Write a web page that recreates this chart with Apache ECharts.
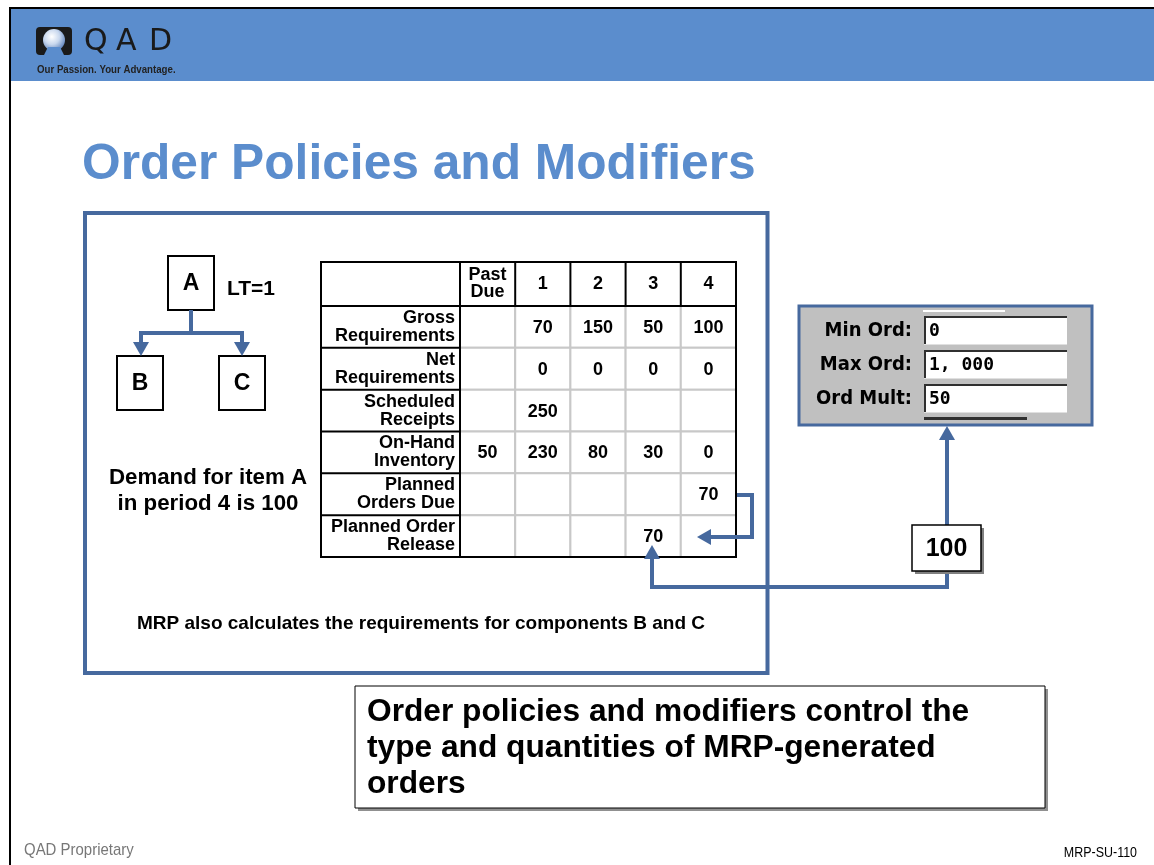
<!DOCTYPE html>
<html><head><meta charset="utf-8">
<script src="https://cdn.jsdelivr.net/npm/echarts@6/dist/echarts.min.js"></script>
<style>html,body{margin:0;padding:0;background:#fff}#c{width:1154px;height:865px}</style>
</head><body><div id="c"></div>
<script>
// ---- data ----
const title = 'Order Policies and Modifiers';
const periods = ['Past\nDue', '1', '2', '3', '4'];
const rowLabels = ['Gross\nRequirements', 'Net\nRequirements', 'Scheduled\nReceipts', 'On-Hand\nInventory', 'Planned\nOrders Due', 'Planned Order\nRelease'];
const grossRequirements = [null, 70, 150, 50, 100];
const netRequirements = [null, 0, 0, 0, 0];
const scheduledReceipts = [null, 250, null, null, null];
const onHandInventory = [50, 230, 80, 30, 0];
const plannedOrdersDue = [null, null, null, null, 70];
const plannedOrderRelease = [null, null, null, 70, null];
const modifierLabels = ['Min Ord:', 'Max Ord:', 'Ord Mult:'];
const modifierValues = ['0', '1, 000', '50'];
const orderQty = '100';
const demandText = 'Demand for item A\nin period 4 is 100';
const noteText = 'MRP also calculates the requirements for components B and C';
const calloutText = 'Order policies and modifiers control the\ntype and quantities of MRP-generated\norders';

const rows = [grossRequirements, netRequirements, scheduledReceipts, onHandInventory, plannedOrdersDue, plannedOrderRelease];
const cells = [];
rows.forEach((r, ri) => r.forEach((v, ci) => cells.push({ value: [ci, ri], label: v == null ? '' : String(v) })));

// ---- layout ----
const BLUE = '#46699e';
const HEAD = '#5b8dcd';
const T = { left: 321, top: 262, headBottom: 306, labelRight: 460, right: 736, bottom: 557 };
const colW = (T.right - T.labelRight) / periods.length;
const rowH = (T.bottom - T.headBottom) / rowLabels.length;
const F = 'Liberation Sans, Arial, sans-serif';

function line(x1, y1, x2, y2, stroke, w, z) {
  return { type: 'line', z: z || 10, shape: { x1, y1, x2, y2 }, style: { stroke, lineWidth: w } };
}
function poly(points, stroke, w, z) {
  return { type: 'polyline', z: z || 10, shape: { points }, style: { stroke, lineWidth: w, fill: null, lineJoin: 'miter' } };
}
function head(tip, dir, fill) {
  const [x, y] = tip; const L = 14, W = 8;
  let pts;
  if (dir === 'up') pts = [[x, y], [x - W, y + L], [x + W, y + L]];
  else if (dir === 'down') pts = [[x, y], [x - W, y - L], [x + W, y - L]];
  else pts = [[x, y], [x + L, y - W], [x + L, y + W]];
  return { type: 'polygon', z: 11, shape: { points: pts }, style: { fill } };
}
function text(x, y, t, font, fill, align, va, extra) {
  return { type: 'text', z: 12, style: Object.assign({ x, y, text: t, font, fill: fill || '#000', align: align || 'left', verticalAlign: va || 'middle' }, extra || {}) };
}
function stext(x, y, t, font, fill, align, sx) {
  return { type: 'text', z: 12, x, y, scaleX: sx, style: { x: 0, y: 0, text: t, font, fill, align, verticalAlign: 'middle' } };
}

const g = [];
// page frame + header band
g.push({ type: 'rect', z: 1, shape: { x: 11, y: 9, width: 1143, height: 72 }, style: { fill: HEAD } });
g.push({ type: 'rect', z: 1, shape: { x: 9, y: 7, width: 1145, height: 2 }, style: { fill: '#000' } });
g.push({ type: 'rect', z: 1, shape: { x: 9, y: 7, width: 2, height: 858 }, style: { fill: '#000' } });
// logo
g.push({ type: 'rect', z: 2, shape: { x: 36, y: 27, width: 36, height: 28, r: 4 }, style: { fill: '#1a1a1a' } });
g.push({ type: 'circle', z: 3, shape: { cx: 54, cy: 40, r: 11 }, style: { fill: { type: 'radial', x: 0.4, y: 0.35, r: 0.7, colorStops: [{ offset: 0, color: '#ffffff' }, { offset: 0.5, color: '#c9d8ee' }, { offset: 1, color: '#5a7fb8' }] } } });
g.push({ type: 'polygon', z: 3, shape: { points: [[44, 55], [48, 47], [60, 47], [64, 55]] }, style: { fill: HEAD } });
g.push(text(84, 42, 'Q', '30px DejaVu Sans', '#1a1a1a', 'left', 'middle'));
g.push(text(116, 42, 'A', '30px DejaVu Sans', '#1a1a1a', 'left', 'middle'));
g.push(text(149, 42, 'D', '30px DejaVu Sans', '#1a1a1a', 'left', 'middle'));
g.push(stext(37, 70, 'Our Passion. Your Advantage.', 'bold 11px ' + F, '#222', 'left', 0.88));
// title
g.push(text(82, 165, title, 'bold 49.7px ' + F, HEAD, 'left', 'middle'));
// outer box
g.push({ type: 'rect', z: 2, shape: { x: 85, y: 213, width: 682.5, height: 460 }, style: { fill: null, stroke: BLUE, lineWidth: 4 } });
// BOM tree
[[168, 256, 'A'], [117, 356, 'B'], [219, 356, 'C']].forEach(([x, y, t]) => {
  g.push({ type: 'rect', z: 5, shape: { x, y, width: 46, height: 54 }, style: { fill: '#fff', stroke: '#000', lineWidth: 2 } });
  g.push(text(x + 23, y + 28, t, 'bold 23px ' + F, '#000', 'center', 'middle'));
});
g.push(text(227, 289, 'LT=1', 'bold 21px ' + F, '#000', 'left', 'middle'));
g.push(poly([[191, 310], [191, 333]], BLUE, 4));
g.push(poly([[141, 343], [141, 333], [242, 333], [242, 343]], BLUE, 4));
g.push(head([141, 356], 'down', BLUE));
g.push(head([242, 356], 'down', BLUE));
g.push(text(208, 491, demandText, 'bold 22.3px ' + F, '#000', 'center', 'middle', { lineHeight: 26 }));
g.push(text(421, 624, noteText, 'bold 19px ' + F, '#000', 'center', 'middle'));

// table black frame lines
g.push({ type: 'rect', z: 10, shape: { x: T.left, y: T.top, width: T.right - T.left, height: T.bottom - T.top }, style: { fill: null, stroke: '#000', lineWidth: 2 } });
g.push(line(T.left, T.headBottom, T.right, T.headBottom, '#000', 2));
g.push(line(T.labelRight, T.top, T.labelRight, T.bottom, '#000', 2));
for (let i = 1; i < periods.length; i++) {
  const x = T.labelRight + i * colW;
  g.push(line(x, T.top, x, T.headBottom, '#000', 2));
}
for (let i = 1; i < rowLabels.length; i++) {
  const y = T.headBottom + i * rowH;
  g.push(line(T.left, y, T.labelRight, y, '#000', 2));
}
// arrow: planned orders due -> release
g.push(poly([[737, 495], [752, 495], [752, 537], [710, 537]], BLUE, 4));
g.push(head([697, 537], 'left', BLUE));
// arrow: 100 -> release 70
g.push(poly([[947, 571], [947, 587], [652, 587], [652, 558]], BLUE, 4));
g.push(head([652, 545], 'up', BLUE));
// arrow: 100 -> modifiers panel
g.push(poly([[947, 525], [947, 438]], BLUE, 4));
g.push(head([947, 426], 'up', BLUE));
// 100 box
g.push({ type: 'rect', z: 12, shape: { x: 915, y: 528, width: 69, height: 46 }, style: { fill: '#808080' } });
g.push({ type: 'rect', z: 13, shape: { x: 912, y: 525, width: 69, height: 46 }, style: { fill: '#fff', stroke: '#000', lineWidth: 1.5 } });
g.push(Object.assign(text(946.5, 549, orderQty, 'bold 25px ' + F, '#000', 'center', 'middle'), { z: 14 }));
// modifiers panel
g.push({ type: 'rect', z: 5, shape: { x: 799, y: 306, width: 293, height: 119 }, style: { fill: '#c0c0c0', stroke: BLUE, lineWidth: 3 } });
g.push({ type: 'rect', z: 6, shape: { x: 923, y: 310, width: 82, height: 2 }, style: { fill: '#ffffff' } });
g.push({ type: 'rect', z: 6, shape: { x: 924, y: 417, width: 103, height: 3 }, style: { fill: '#303030' } });
const fieldY = [316, 350, 384];
modifierLabels.forEach((lab, i) => {
  const y = fieldY[i];
  g.push({ type: 'rect', z: 6, shape: { x: 924, y, width: 143, height: 29 }, style: { fill: '#fff' } });
  g.push({ type: 'rect', z: 7, shape: { x: 924, y, width: 143, height: 2 }, style: { fill: '#303030' } });
  g.push({ type: 'rect', z: 7, shape: { x: 924, y, width: 2, height: 29 }, style: { fill: '#303030' } });
  g.push({ type: 'rect', z: 7, shape: { x: 924, y: y + 28, width: 143, height: 1 }, style: { fill: '#e0e0e0' } });
  g.push(text(912, y + 15, lab, 'bold 20px DejaVu Sans Condensed, ' + F, '#000', 'right', 'middle'));
  g.push(text(929, y + 15, modifierValues[i], 'bold 18px DejaVu Sans Mono, monospace', '#000', 'left', 'middle'));
});
// callout box
g.push({ type: 'rect', z: 5, shape: { x: 358, y: 689, width: 690, height: 122 }, style: { fill: '#909090' } });
g.push({ type: 'rect', z: 6, shape: { x: 355, y: 686, width: 690, height: 122 }, style: { fill: '#fff', stroke: '#000', lineWidth: 1 } });
g.push(Object.assign(text(367, 748, calloutText, 'bold 31.7px ' + F, '#000', 'left', 'middle', { lineHeight: 36 }), { z: 7 }));
// footer
g.push(stext(24, 850, 'QAD Proprietary', '17px ' + F, '#777', 'left', 0.88));
g.push(stext(1137, 853, 'MRP-SU-110', '14px ' + F, '#000', 'right', 0.89));

const chart = echarts.init(document.getElementById('c'), null, { renderer: 'canvas' });
chart.setOption({
  backgroundColor: '#fff',
  animation: false,
  grid: { left: T.labelRight, top: T.headBottom, width: T.right - T.labelRight, height: T.bottom - T.headBottom, containLabel: false },
  xAxis: {
    type: 'category', data: periods, position: 'top',
    axisLine: { show: false }, axisTick: { show: false }, splitLine: { show: false },
    axisLabel: { margin: 22, verticalAlign: 'middle', color: '#000', fontFamily: F, fontWeight: 'bold', fontSize: 18, lineHeight: 17, interval: 0 }
  },
  yAxis: {
    type: 'category', data: rowLabels, inverse: true,
    axisLine: { show: false }, axisTick: { show: false }, splitLine: { show: false },
    axisLabel: { margin: 5, align: 'right', verticalAlign: 'middle', color: '#000', fontFamily: F, fontWeight: 'bold', fontSize: 18, lineHeight: 18, interval: 0 }
  },
  series: [{
    type: 'custom', data: cells, z: 3,
    renderItem: function (params, api) {
      const c = api.coord([api.value(0), api.value(1)]);
      const s = api.size([1, 1]);
      return {
        type: 'group', children: [
          { type: 'rect', shape: { x: c[0] - s[0] / 2, y: c[1] - s[1] / 2, width: s[0], height: s[1] }, style: { fill: '#fff', stroke: '#c8c8c8', lineWidth: 2 } },
          { type: 'text', style: { x: c[0], y: c[1] + 1, text: cells[params.dataIndex].label, align: 'center', verticalAlign: 'middle', font: 'bold 18px ' + F, fill: '#000' } }
        ]
      };
    }
  }],
  graphic: { elements: g }
});
</script></body></html>
